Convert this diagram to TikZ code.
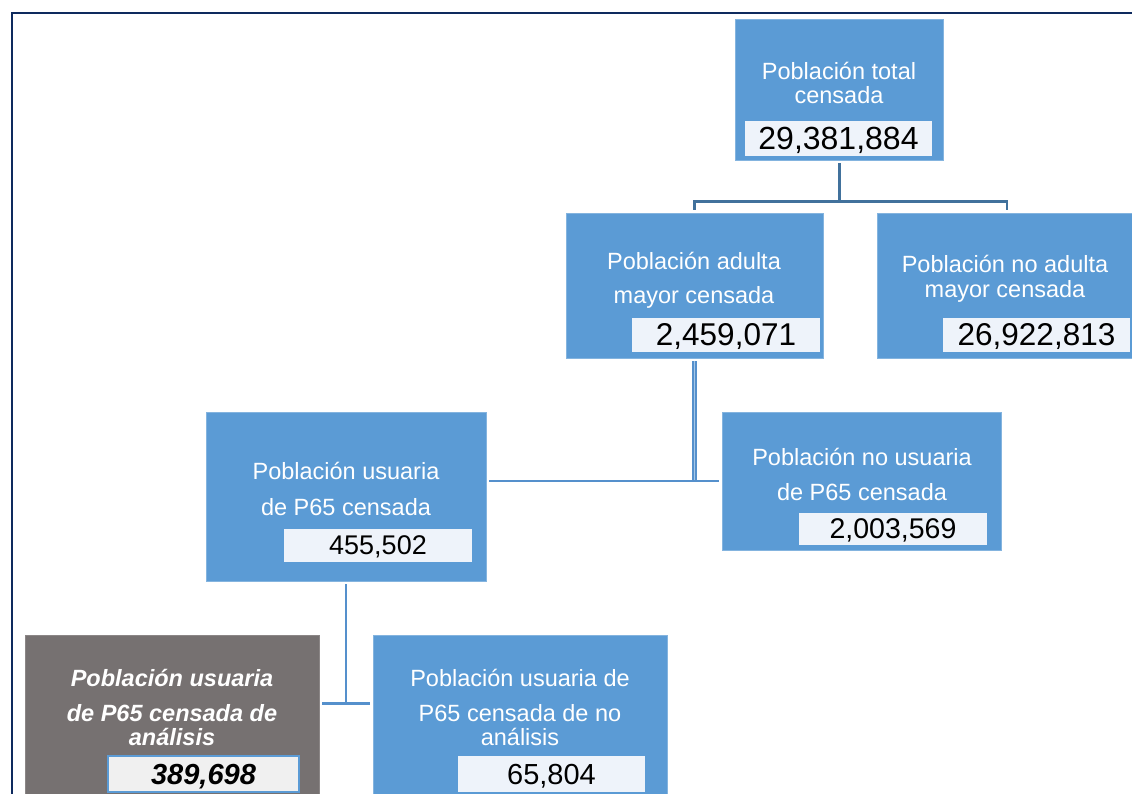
\documentclass[tikz,border=0pt]{standalone}
\usepackage{fontspec}
\setmainfont{Liberation Sans}
\usepackage{xcolor}

\definecolor{boxblue}{HTML}{5B9BD5}
\definecolor{boxgrey}{HTML}{767171}
\definecolor{numfill}{HTML}{EEF3FA}
\definecolor{numgrey}{HTML}{F0F0F0}
\definecolor{linkdark}{HTML}{41719C}
\definecolor{linkblue}{HTML}{5590CC}
\definecolor{framenavy}{HTML}{0E2A5E}

\begin{document}
\begin{tikzpicture}[x=1pt, y=-1pt,
    box/.style={fill=boxblue, draw=boxblue!75!white, line width=0.8pt, inner sep=0pt},
    greybox/.style={fill=boxgrey, draw=boxgrey!85!white, line width=0.8pt, inner sep=0pt},
    numbox/.style={fill=numfill, inner sep=0pt, text depth=0pt, text=black},
    lbl/.style={text=white, align=center, inner sep=0pt},
    link/.style={draw=linkblue, line width=2.2pt, shorten <=3pt, shorten >=3pt}]
    \useasboundingbox (0,0) rectangle (1132,794);
    \clip (0,0) rectangle (1132,794);

    % Frame
    \draw[framenavy, line width=1.8pt] (1200,13) -- (12,13) -- (12,900);

    % Total population
    \node[box, minimum width=208, minimum height=141] (tot) at (839,89.5) {};
    \node[lbl, font=\fontsize{23.5}{24}\selectfont] (ltot) at (839,83) {Población total\\censada};
    \node[numbox, minimum width=187, minimum height=35, font=\fontsize{32}{34}\selectfont] (ntot) at (838.5,138.5) {29,381,884};

    % Adult population
    \node[box, minimum width=257, minimum height=145] (adu) at (694.5,285.5) {};
    \node[lbl, font=\fontsize{23.5}{34}\selectfont] (ladu) at (694,280) {Población adulta\\mayor censada};
    \node[numbox, minimum width=188, minimum height=34, font=\fontsize{31.5}{34}\selectfont] (nadu) at (726,335) {2,459,071};

    % Non adult population
    \node[box, minimum width=260, minimum height=145] (noadu) at (1007,285.5) {};
    \node[lbl, font=\fontsize{23.5}{25}\selectfont] (lnoadu) at (1005,279) {Población no adulta\\mayor censada};
    \node[numbox, minimum width=187, minimum height=34, font=\fontsize{31.5}{34}\selectfont] (nnoadu) at (1036.5,335) {26,922,813};

    % P65 users
    \node[box, minimum width=280, minimum height=169] (usu) at (346,496.5) {};
    \node[lbl, font=\fontsize{23.5}{36}\selectfont] (lusu) at (346,489) {Población usuaria\\de P65 censada};
    \node[numbox, minimum width=188, minimum height=33, font=\fontsize{27}{30}\selectfont] (nusu) at (378,545.5) {455,502};

    % Non P65 users
    \node[box, minimum width=279, minimum height=138] (nousu) at (861.5,481) {};
    \node[lbl, font=\fontsize{23.5}{35}\selectfont] (lnousu) at (862,474) {Población no usuaria\\de P65 censada};
    \node[numbox, minimum width=188, minimum height=32, font=\fontsize{28.5}{30}\selectfont] (nnousu) at (893,529) {2,003,569};

    % Analysis population
    \node[greybox, minimum width=294, minimum height=185] (ana) at (172,727.5) {};
    \node[lbl, font=\fontsize{23.5}{35}\selectfont\bfseries\itshape] (lana) at (172,707) {Población usuaria\\de P65 censada de\\[-11pt]análisis};
    \node[numbox, fill=numgrey, draw=boxblue, line width=2pt, minimum width=191, minimum height=36, font=\fontsize{29}{30}\selectfont\bfseries\itshape] (nana) at (203.5,774) {389,698};

    % Non analysis population
    \node[box, minimum width=294, minimum height=185] (noana) at (520,727.5) {};
    \node[lbl, font=\fontsize{23.5}{35}\selectfont] (lnoana) at (520,707) {Población usuaria de\\P65 censada de no\\[-11pt]análisis};
    \node[numbox, minimum width=187, minimum height=36, font=\fontsize{29}{30}\selectfont] (nnoana) at (551.5,774) {65,804};

    % Connectors
    \coordinate (j1) at ([yshift=-41pt]tot.south);
    \draw[link, linkdark, line width=3pt, shorten >=0pt] (tot.south) -- (j1);
    \draw[link, linkdark, line width=2.6pt] (adu.north) |- (j1) -| (noadu.north);

    \draw[link, shorten >=0pt, double=boxblue!55!white, double distance=1.6pt, line width=1.9pt]
        (adu.south) -- (adu.south |- nousu.west);
    \draw[link] (nousu.west -| usu.east) -- (nousu.west);

    \coordinate (j3) at ([yshift=-122pt]usu.south);
    \draw[link, shorten >=0pt] (usu.south) -- (j3);
    \draw[link] (j3 -| ana.east) -- (j3 -| noana.west);
\end{tikzpicture}
\end{document}
